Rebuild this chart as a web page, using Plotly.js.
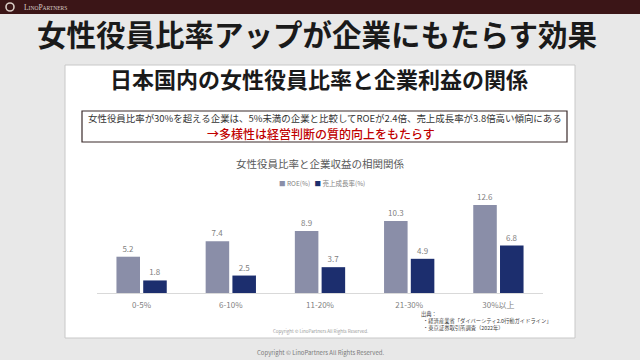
<!DOCTYPE html>
<html>
<head>
<meta charset="utf-8">
<script src="https://cdn.plot.ly/plotly-3.0.1.min.js"></script>
<style>
html,body{margin:0;padding:0;background:#e8e8e8;}
#chart{width:640px;height:360px;}
</style>
</head>
<body>
<div id="chart"></div>
<script>
// ---- data ----
const categories = ["0-5%", "6-10%", "11-20%", "21-30%", "30%以上"];
const roeValues = [5.2, 7.4, 8.9, 10.3, 12.6];
const salesGrowthValues = [1.8, 2.5, 3.7, 4.9, 6.8];
const seriesNames = ["ROE(%)", "売上成長率(%)"];

const pageTitle = "女性役員比率アップが企業にもたらす効果";
const panelTitle = "日本国内の女性役員比率と企業利益の関係";
const boxLine1 = "女性役員比率が30%を超える企業は、5%未満の企業と比較してROEが2.4倍、売上成長率が3.8倍高い傾向にある";
const boxLine2 = "→多様性は経営判断の質的向上をもたらす";
const chartTitle = "女性役員比率と企業収益の相関関係";
const sourceLines = ["出典：", "・経済産業省「ダイバーシティ2.0行動ガイドライン」", "・東京証券取引所調査（2022年）"];
const copyright = "Copyright © LinoPartners All Rights Reserved.";

// ---- helpers (pixel -> paper) ----
const W = 640, H = 360;
const px = x => x / W;
const py = y => 1 - y / H;
const FONT = "Noto Sans CJK JP, Noto Sans, sans-serif";
const ROE_COLOR = "#8a8ea8";
const SALES_COLOR = "#1c2e6e";

const traces = [
  {
    type: "bar", name: seriesNames[0], x: categories, y: roeValues,
    marker: {color: ROE_COLOR},
    text: roeValues.map(v => v.toFixed(1)), textposition: "outside",
    textfont: {size: 8, color: "#7f7f7f", family: FONT},
    cliponaxis: false, hoverinfo: "skip"
  },
  {
    type: "bar", name: seriesNames[1], x: categories, y: salesGrowthValues,
    marker: {color: SALES_COLOR},
    text: salesGrowthValues.map(v => v.toFixed(1)), textposition: "outside",
    textfont: {size: 8, color: "#7f7f7f", family: FONT},
    cliponaxis: false, hoverinfo: "skip"
  }
];

const shapes = [
  // top dark bar
  {type: "rect", xref: "paper", yref: "paper", x0: 0, x1: 1, y0: py(14), y1: 1,
   fillcolor: "#3b1517", line: {width: 0}, layer: "below"},
  // logo ring
  {type: "circle", xref: "paper", yref: "paper", x0: px(6), x1: px(14), y0: py(11), y1: py(3),
   fillcolor: "rgba(0,0,0,0)", line: {color: "#d9ccc6", width: 1.6}, layer: "below"},
  // white panel
  {type: "rect", xref: "paper", yref: "paper", x0: px(65), x1: px(575), y0: py(338), y1: py(65),
   fillcolor: "#ffffff", line: {color: "#c8c8c8", width: 1}, layer: "below"},
  // message box
  {type: "rect", xref: "paper", yref: "paper", x0: px(82), x1: px(567), y0: py(142), y1: py(111),
   fillcolor: "#ffffff", line: {color: "#3a2a2a", width: 1.2}, layer: "below"}
];

function ann(text, x, y, size, color, opts) {
  return Object.assign({
    text: text, xref: "paper", yref: "paper", x: px(x), y: py(y),
    xanchor: "center", yanchor: "middle", showarrow: false,
    font: {family: FONT, size: size, color: color}
  }, opts || {});
}

const annotations = [
  ann("L<span style='font-size:5.5px'>INO</span>P<span style='font-size:5.5px'>ARTNERS</span>", 22, 7, 7.5, "#d9ccc6",
      {xanchor: "left", font: {family: "Liberation Serif, serif", size: 7.5, color: "#d9ccc6"}}),
  ann(pageTitle, 317, 33, 29.5, "#1a1a1a", {font: {family: FONT, size: 29.5, color: "#1a1a1a", weight: 700}}),
  ann(panelTitle, 319, 78, 22, "#1a1a1a", {font: {family: FONT, size: 22, color: "#1a1a1a", weight: 700}}),
  ann(boxLine1, 324.5, 118, 9.45, "#333333"),
  ann(boxLine2, 321, 133, 12, "#c00000", {font: {family: FONT, size: 12, color: "#c00000", weight: 500}}),
  ann(chartTitle, 320, 164, 10.5, "#595959"),
  ann("<span style='color:" + ROE_COLOR + "'>■</span> " + seriesNames[0] +
      "   <span style='color:" + SALES_COLOR + "'>■</span> " + seriesNames[1], 322, 183, 6.5, "#7f7f7f"),
  ann(sourceLines[0], 419, 313.5, 5.3, "#404040", {xanchor: "left"}),
  ann(sourceLines[1], 421, 320.5, 5.3, "#404040", {xanchor: "left"}),
  ann(sourceLines[2], 421, 327.5, 5.3, "#404040", {xanchor: "left"}),
  ann(copyright, 320, 331.5, 4.5, "#9a9a9a"),
  ann(copyright, 320, 352, 6, "#7a7a7a")
];

const layout = {
  width: W, height: H,
  margin: {l: 0, r: 0, t: 0, b: 0},
  paper_bgcolor: "#e8e8e8",
  plot_bgcolor: "rgba(0,0,0,0)",
  showlegend: false,
  barmode: "group",
  bargap: 0.40,
  bargroupgap: 0.12,
  font: {family: FONT},
  xaxis: {
    domain: [px(97), px(543)],
    type: "category",
    showline: true, linecolor: "#d9d9d9", linewidth: 1,
    showgrid: false, zeroline: false, ticks: "",
    ticklabelstandoff: 4,
    tickfont: {size: 8, color: "#7f7f7f", family: FONT},
    fixedrange: true
  },
  yaxis: {
    domain: [py(293), py(195.3)],
    range: [0, 14],
    visible: false, showgrid: false, zeroline: false,
    fixedrange: true
  },
  shapes: shapes,
  annotations: annotations
};

Plotly.newPlot("chart", traces, layout, {staticPlot: true, displayModeBar: false});
</script>
</body>
</html>
